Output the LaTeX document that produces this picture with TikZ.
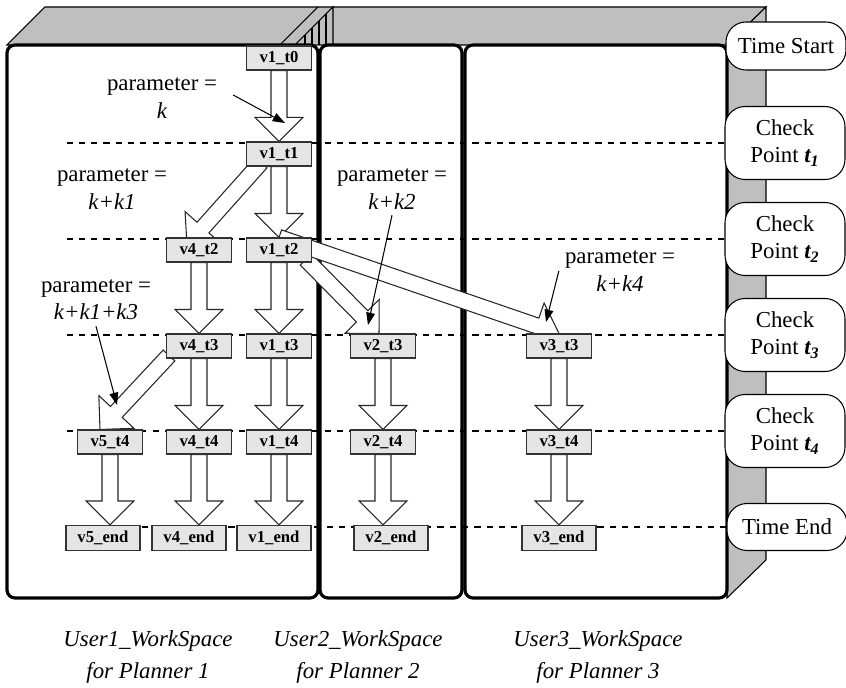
\documentclass[tikz,border=0pt]{standalone}
\usepackage{fontspec}
\setmainfont{Liberation Serif}
\usetikzlibrary{calc,arrows.meta}
\pgfdeclarelayer{back}
\pgfdeclarelayer{flow}
\pgfsetlayers{back,flow,main}
\newcommand{\shaftw}{0.16cm}
\newcommand{\headw}{0.48cm}
\newcommand{\blockarrow}[2]{%
\coordinate (ba) at (#1);
\coordinate (bb) at (#2);
\coordinate (bh) at ($(bb)!\headw!(ba)$);
\filldraw[flowarrow] ($(ba)!\shaftw!90:(bb)$) -- ($(bh)!\shaftw!90:(bb)$) -- ($(bh)!\headw!90:(bb)$) -- (bb)
  -- ($(bh)!\headw!-90:(bb)$) -- ($(bh)!\shaftw!-90:(bb)$) -- ($(ba)!\shaftw!-90:(bb)$) -- cycle;
}

\begin{document}
\begin{tikzpicture}[x=0.02cm,y=-0.02cm,
  vbox/.style={draw=black!80,fill=gray!20,line width=0.6pt,minimum width=1.3cm,minimum height=0.48cm,inner sep=0pt,font=\fontsize{9.5}{11}\selectfont\bfseries},
  endbox/.style={vbox,minimum width=1.48cm,minimum height=0.5cm},
  flowarrow/.style={draw=black!85,fill=white,line width=0.6pt},
  tline/.style={dash pattern=on 3.5pt off 3.5pt,line width=0.8pt},
  panel/.style={draw=black,fill=white,line width=1.8pt,rounded corners=0.16cm},
  side/.style={draw=black,fill=gray!50,line width=0.6pt},
  chkpt/.style={draw=black,fill=white,rounded corners=0.4cm,align=center,minimum width=2.4cm,line width=0.6pt,font=\fontsize{13}{15.5}\selectfont},
  param/.style={align=center,font=\fontsize{13}{15.5}\selectfont},
  ptr/.style={-{Triangle[length=7pt,width=5pt]},line width=0.6pt},
  wsname/.style={align=center,font=\fontsize{13}{18}\selectfont\itshape}]
\useasboundingbox (0,0) rectangle (846,688);

% planner nodes
\foreach \v/\t/\x/\y in {1/t0/279/58, 1/t1/279/154, 4/t2/199/250, 1/t2/279/250,
  4/t3/199/346, 1/t3/279/346, 2/t3/383/346, 3/t3/559/346,
  5/t4/110/442, 4/t4/199/442, 1/t4/279/442, 2/t4/383/442, 3/t4/559/442}{
\node[vbox] (v\v-\t) at (\x,\y) {v\v\_\t};
}
\foreach \v/\x in {5/103, 4/189, 1/274, 2/391, 3/559}{
\node[endbox] (v\v-end) at (\x,538) {v\v\_end};
}

% time marks
\node[chkpt,minimum height=0.96cm] (ts) at (786,46) {Time Start};
\node[chkpt,minimum height=1.46cm] (cp1) at (785,143) {Check\\Point \textbf{\textit{t\textsubscript{1}}}};
\node[chkpt,minimum height=1.46cm] (cp2) at (785,239) {Check\\Point \textbf{\textit{t\textsubscript{2}}}};
\node[chkpt,minimum height=1.46cm] (cp3) at (785,335) {Check\\Point \textbf{\textit{t\textsubscript{3}}}};
\node[chkpt,minimum height=1.46cm] (cp4) at (785,431) {Check\\Point \textbf{\textit{t\textsubscript{4}}}};
\node[chkpt,minimum height=0.94cm] (te) at (787,527) {Time End};

% parameters
\node[param] (pk) at (162,98) {parameter =\\\textit{k}};
\node[param] (pk1) at (112,189) {parameter =\\\textit{k+k1}};
\node[param] (pk2) at (392,189) {parameter =\\\textit{k+k2}};
\node[param] (pk4) at (620,271) {parameter =\\\textit{k+k4}};
\node[param] (pk3) at (96,300) {parameter =\\\textit{k+k1+k3}};

% workspaces
\node[wsname] (ws1) at (148,657) {User1\_WorkSpace\\for Planner 1};
\node[wsname] (ws2) at (358,657) {User2\_WorkSpace\\for Planner 2};
\node[wsname] (ws3) at (598,657) {User3\_WorkSpace\\for Planner 3};

\begin{pgfonlayer}{back}
\filldraw[side] (7,45)--(45,7)--(766,7)--(727,45)--cycle;
\filldraw[side] (727,45)--(766,7)--(766,560)--(727,598)--cycle;
\draw[line width=0.6pt] (280,45)--(318,7);
\draw[line width=0.6pt] (295,45)--(333,7)--(333,45);
\foreach \h in {305,312,319,326}{
\draw[line width=0.6pt] (\h,340-\h)--(\h,45);
}
\draw[panel] (7,45) rectangle (318,598);
\draw[panel] (320,45) rectangle (462,598);
\draw[panel] (465,45) rectangle (727,598);
\foreach \c in {cp1,cp2,cp3,cp4}{
\draw[tline] (\c.west) -- ++(-660,0);
}
\draw[tline] (te.west) -- ++(-662,0);
\end{pgfonlayer}

\begin{pgfonlayer}{flow}
\foreach \p/\q in {v1-t0/v1-t1, v1-t1/v1-t2, v1-t2/v1-t3, v1-t3/v1-t4, v1-t4/v1-end,
  v4-t2/v4-t3, v4-t3/v4-t4, v4-t4/v4-end, v2-t3/v2-t4, v2-t4/v2-end,
  v3-t3/v3-t4, v3-t4/v3-end, v5-t4/v5-end}{
\blockarrow{\p.south}{\p.south |- \q.north}
}
\blockarrow{$(v1-t1.south)+(-18,-4)$}{$(v4-t2.north)+(-12,8)$}
\blockarrow{$(v4-t3.south west)+(3,-3)$}{$(v5-t4.north)+(-10,0)$}
\blockarrow{$(v1-t2.south east)+(-6,-3)$}{$(v2-t3.north)+(-4,0)$}
\blockarrow{v1-t2.north}{v3-t3.north}
\end{pgfonlayer}

% pointers
\coordinate (pk-tip) at (285,123);
\coordinate (pk2-tip) at (368,325);
\coordinate (pk4-tip) at (546,322);
\coordinate (pk3-tip) at (117,405);
\draw[ptr] ($(pk.east)+(10,-3)$) -- (pk-tip);
\draw[ptr] (pk2.south) -- (pk2-tip);
\draw[ptr] (pk4.west) -- (pk4-tip);
\draw[ptr] (pk3.south) -- (pk3-tip);
\end{tikzpicture}
\end{document}
